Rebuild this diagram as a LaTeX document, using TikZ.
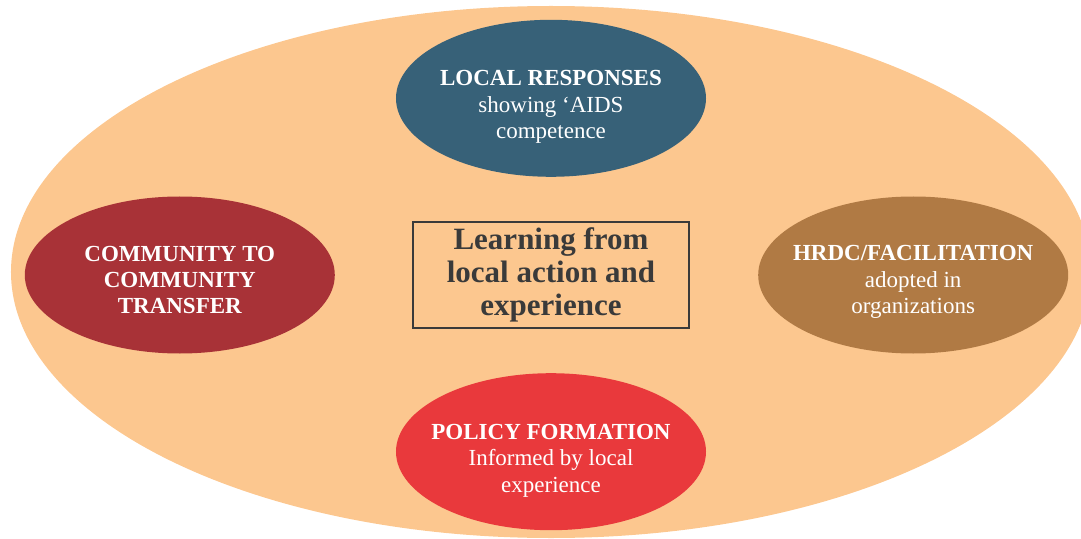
\documentclass[tikz,border=0pt]{standalone}
\usepackage{fontspec}
\setmainfont{Liberation Serif}
\usepackage{xcolor}
\usetikzlibrary{shapes.geometric, positioning}

\definecolor{peach}{RGB}{252,199,143}
\definecolor{localblue}{RGB}{55,97,120}
\definecolor{hrdcbrown}{RGB}{176,122,68}
\definecolor{policyred}{RGB}{233,57,60}
\definecolor{commred}{RGB}{168,50,55}
\definecolor{boxgray}{RGB}{58,58,58}

\begin{document}
\begin{tikzpicture}[x=1pt, y=1pt,
    blob/.style={draw=none, ellipse, minimum width=310pt, minimum height=157pt, inner sep=0pt},
    blobtext/.style={align=center, text=white, font=\fontsize{23}{26.5}\selectfont}]
    % Page and backdrop
    \clip (-551,-263) rectangle (530,275);
    \fill[peach] (0,3) ellipse [x radius=540, y radius=266];

    % Centre box
    \node[draw=boxgray, line width=2pt, rectangle, minimum width=276pt, minimum height=106pt, text=boxgray, align=center, font=\fontsize{31}{33}\selectfont\bfseries] (Learn) at (0,0) {Learning from\\local action and\\experience};

    % Ellipses round the box
    \node[blob, fill=localblue, above=44pt of Learn] (Local) {};
    \node[blob, fill=policyred, below=44pt of Learn] (Policy) {};
    \node[blob, fill=commred, left=77pt of Learn] (Comm) {};
    \node[blob, fill=hrdcbrown, right=68pt of Learn] (Hrdc) {};

    % Ellipse texts
    \node[blobtext] (LocalTxt) at ([yshift=-9pt]Local.center) {\textbf{LOCAL RESPONSES}\\showing ‘AIDS\\competence};
    \node[blobtext] (PolicyTxt) at ([yshift=-9pt]Policy.center) {\textbf{POLICY FORMATION}\\Informed by local\\experience};
    \node[blobtext, font=\fontsize{23}{26}\selectfont\bfseries] (CommTxt) at ([yshift=-5pt]Comm.center) {COMMUNITY TO\\COMMUNITY\\TRANSFER};
    \node[blobtext] (HrdcTxt) at ([yshift=-7pt]Hrdc.center) {\textbf{HRDC/FACILITATION}\\adopted in\\organizations};
\end{tikzpicture}
\end{document}
